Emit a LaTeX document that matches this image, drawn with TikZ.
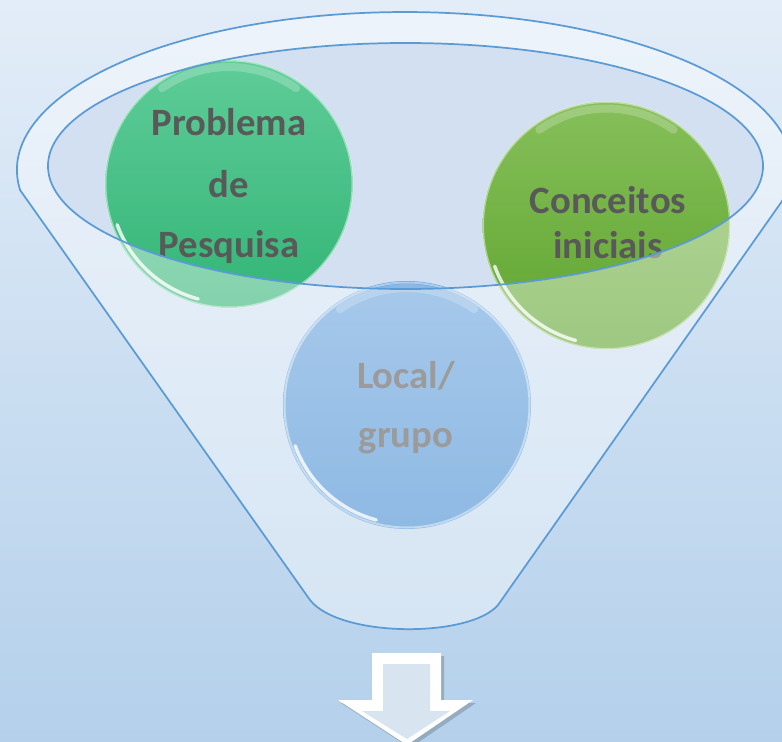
\documentclass[tikz,border=0pt]{standalone}
\usepackage{fontspec}
\setmainfont{Carlito}
\usetikzlibrary{calc}
\definecolor{bgtop}{HTML}{E3EDF8}
\definecolor{bgbot}{HTML}{B4D0EB}
\definecolor{rimblue}{HTML}{5B9BD5}
\definecolor{innerfill}{HTML}{D2E0F1}
\definecolor{txtgray}{HTML}{595959}
\definecolor{gtop}{HTML}{5FCC98}
\definecolor{gbot}{HTML}{33B577}
\definecolor{ltop}{HTML}{86BF5A}
\definecolor{lbot}{HTML}{5EA52E}
\definecolor{btop}{HTML}{6CA5DE}
\definecolor{bbot}{HTML}{448CD2}
\definecolor{arrowface}{HTML}{D9E4F1}
\tikzset{
  bubble/.style={circle, inner sep=0pt, minimum size=186pt, draw=none},
  bubtext/.style={anchor=base, text=txtgray, font=\fontsize{29}{34}\selectfont\bfseries, inner sep=0pt},
  rimline/.style={draw=rimblue, line width=1.3pt},
  glint/.style={white, line width=2.6pt, opacity=0.8, line cap=round},
  tophi/.style={white, line width=6pt, opacity=0.22, line cap=round},
  bubrim/.style={white, opacity=0.45, line width=1.5pt}
}
\begin{document}
\begin{tikzpicture}[x=0.75pt,y=-0.75pt]
\useasboundingbox (0,0) rectangle (782,742);
\clip (0,0) rectangle (782,742);
% background
\shade[top color=bgtop, bottom color=bgbot] (0,0) rectangle (782,742);
% opening of the funnel (behind the bubbles)
\fill[innerfill] (405.5,166) ellipse [x radius=357.5, y radius=123];
% bubbles
\node[bubble, top color=gtop, bottom color=gbot] (prob) at (229,184) {};
\node[bubble, top color=ltop, bottom color=lbot] (conc) at (606.5,225.5) {};
\node[bubble, top color=btop, bottom color=bbot] (local) at (407,405) {};
% rims and glints
\draw[bubrim] (prob) circle [radius=123.5];
\draw[bubrim] (conc) circle [radius=123.5];
\draw[bubrim] (local) circle [radius=122.5];
\draw[glint] ($(prob)+(105:119)$) arc [start angle=105, end angle=160, radius=119];
\draw[glint] ($(conc)+(105:119)$) arc [start angle=105, end angle=160, radius=119];
\draw[glint] ($(local)+(105:119)$) arc [start angle=105, end angle=160, radius=119];
\draw[tophi] ($(prob)+(235:117)$) arc [start angle=235, end angle=305, radius=117];
\draw[tophi] ($(conc)+(235:117)$) arc [start angle=235, end angle=305, radius=117];
\draw[tophi] ($(local)+(235:117)$) arc [start angle=235, end angle=305, radius=117];
% texts
\node[bubtext] (t1) at (229,135) {Problema};
\node[bubtext] (t2) at (229,197) {de};
\node[bubtext] (t3) at (229,257) {Pesquisa};
\node[bubtext] (t4) at (608,213) {Conceitos};
\node[bubtext] (t5) at (608,258) {iniciais};
\node[bubtext] (t6) at (406,388) {Local/};
\node[bubtext] (t7) at (406,447) {grupo};
% translucent funnel body over everything but the opening
\fill[white, fill opacity=0.4, even odd rule]
  (20.1,190.1) arc [start angle=172.7, end angle=367.3, x radius=388, y radius=158]
  -- (498,605) .. controls (470,638) and (340,638) .. (310,600) -- cycle
  (405.5,166) ellipse [x radius=357.5, y radius=123];
% outlines
\draw[rimline]
  (20.1,190.1) arc [start angle=172.7, end angle=367.3, x radius=388, y radius=158]
  -- (498,605) .. controls (470,638) and (340,638) .. (310,600) -- cycle;
\draw[rimline] (405.5,166) ellipse [x radius=357.5, y radius=123];
% arrow
\fill[black, opacity=0.18] (375,656) -- (444,656) -- (444,703) -- (476,703) -- (410,748) -- (341,703) -- (375,703) -- cycle;
\fill[white] (372,653) -- (441,653) -- (441,700) -- (473,700) -- (407,745) -- (338,700) -- (372,700) -- cycle;
\fill[arrowface] (383,664) -- (430,664) -- (430,711) -- (450,711) -- (407,739) -- (362,711) -- (383,711) -- cycle;
\end{tikzpicture}
\end{document}
